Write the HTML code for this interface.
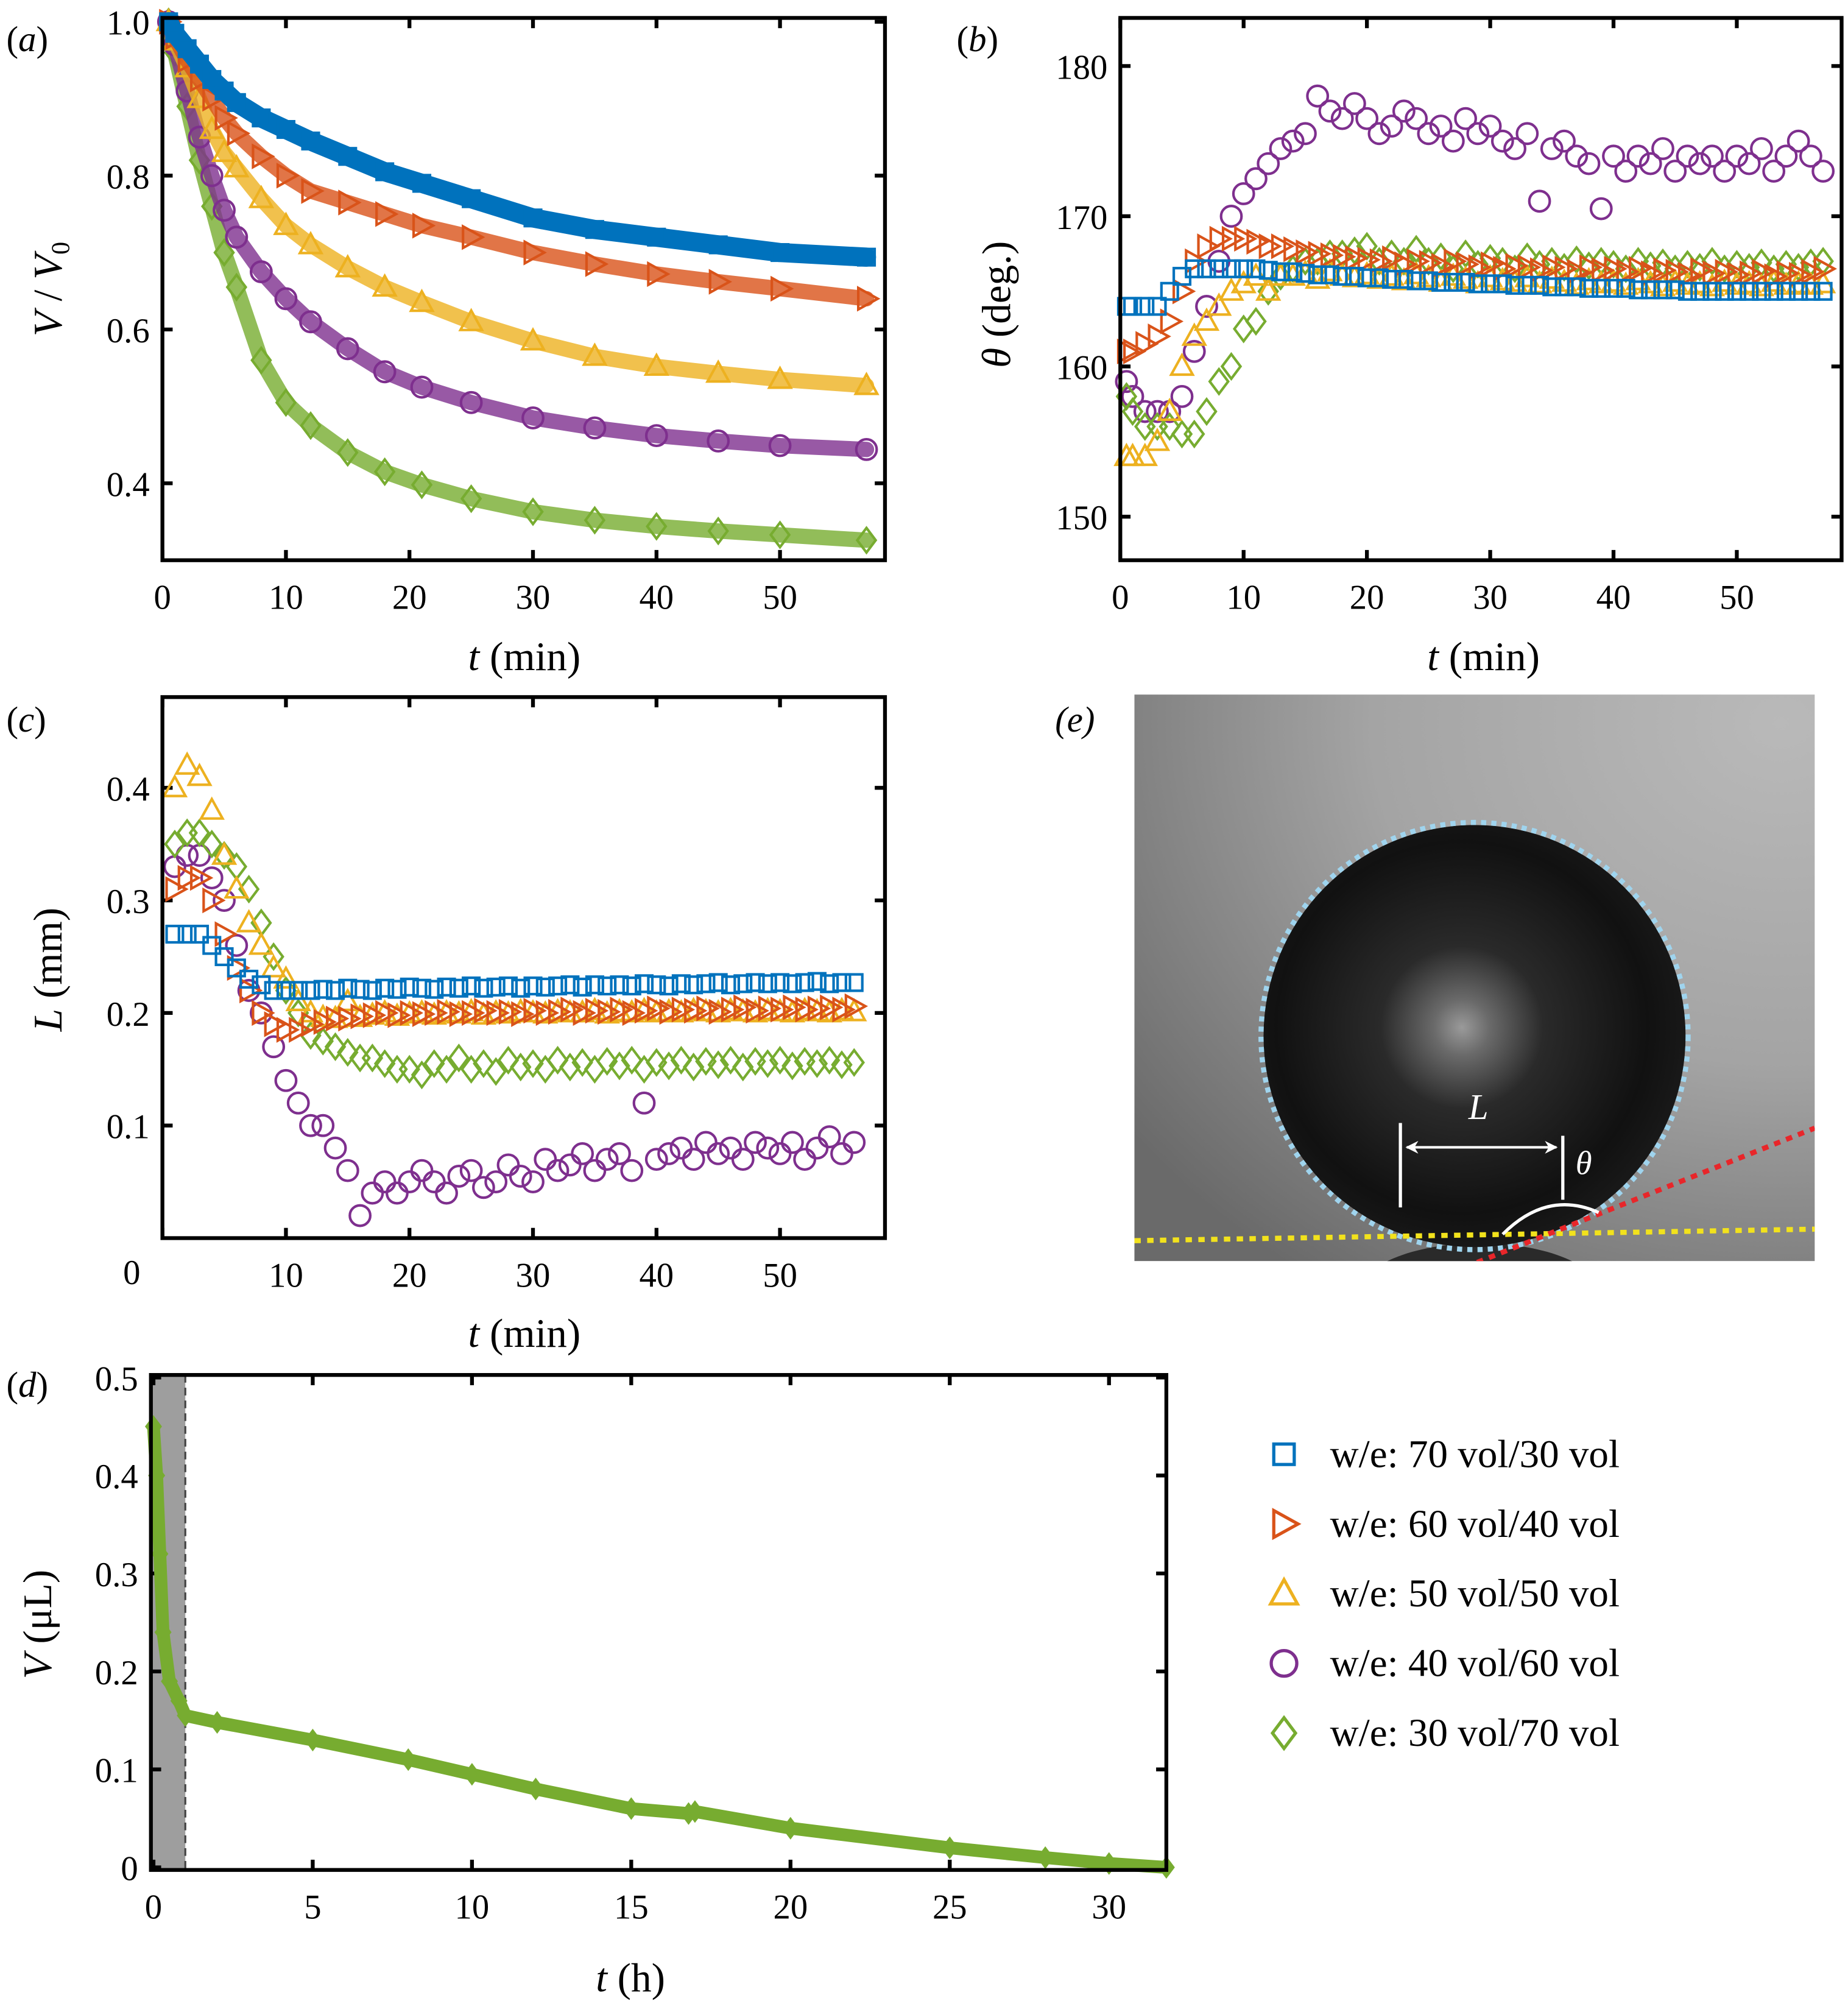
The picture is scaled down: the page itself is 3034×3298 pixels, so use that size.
<!DOCTYPE html>
<html><head><meta charset="utf-8"><style>
html,body{margin:0;padding:0;background:#fff}
svg{display:block}
text{font-family:"Liberation Serif",serif;fill:#000}
</style></head><body>
<svg id="fig" xmlns="http://www.w3.org/2000/svg" width="3034" height="3298" viewBox="0 0 1445 1570.7">
<defs>
<radialGradient id="bgGrad" cx="0.95" cy="0.05" r="1.2">
<stop offset="0" stop-color="#b9b9b9"/><stop offset="0.5" stop-color="#a4a4a4"/><stop offset="1" stop-color="#6a6a6a"/>
</radialGradient>
<radialGradient id="dropGrad" cx="0.47" cy="0.48" r="0.55">
<stop offset="0" stop-color="#9a9a9a"/><stop offset="0.12" stop-color="#6a6a6a"/><stop offset="0.35" stop-color="#2a2a2a"/><stop offset="0.8" stop-color="#111"/><stop offset="1" stop-color="#1a1a1a"/>
</radialGradient>
<clipPath id="photoClip"><rect x="887" y="543" width="532" height="443"/></clipPath>
<marker id="arrH" markerWidth="10" markerHeight="10" refX="9" refY="5" orient="auto-start-reverse" markerUnits="userSpaceOnUse"><path d="M0,0 L10,5 L0,10 L3,5 z" fill="#fff"/></marker>
</defs>
<g id="root"></g>

<g clip-path="url(#photoClip)">
<rect x="887" y="543" width="532" height="443" fill="url(#bgGrad)"/>
<ellipse cx="1157" cy="1012" rx="95" ry="40" fill="#2a2a2a"/>
<circle cx="1153" cy="810" r="165" fill="url(#dropGrad)"/>
<circle cx="1153" cy="810" r="167" fill="none" stroke="#9fd4ee" stroke-width="4" stroke-dasharray="4 4"/>
<line x1="887" y1="970" x2="1419" y2="961" stroke="#f2e21c" stroke-width="4" stroke-dasharray="5 5"/>
<line x1="1155" y1="987" x2="1419" y2="882" stroke="#e8262a" stroke-width="4" stroke-dasharray="5 5"/>
<line x1="1095" y1="878" x2="1095" y2="944" stroke="#fff" stroke-width="2.5"/>
<line x1="1222" y1="888" x2="1222" y2="938" stroke="#fff" stroke-width="2.5"/>
<line x1="1100" y1="897" x2="1217" y2="897" stroke="#fff" stroke-width="2" marker-start="url(#arrH)" marker-end="url(#arrH)"/>
<path d="M1175,965 Q1210,930 1250,948" fill="none" stroke="#fff" stroke-width="2.5"/>
<text x="1156" y="875" font-size="28" font-style="italic" text-anchor="middle" style="fill:#fff">L</text>
<text x="1232" y="918" font-size="26" font-style="italic" style="fill:#fff">θ</text>
</g>
<text x="825" y="572" font-size="28" font-style="italic">(e)</text>

<script>
// ---------- data ----------
const colors = ["#0072BD","#D95319","#EDB120","#7E2F8E","#77AC30"];
const shapes = ["square","tri-right","tri-up","circle","diamond"];
const seriesNames = ["w/e: 70 vol/30 vol","w/e: 60 vol/40 vol","w/e: 50 vol/50 vol","w/e: 40 vol/60 vol","w/e: 30 vol/70 vol"];

const tA = [0.5,1,2,3,4,5,6,8,10,12,15,18,21,25,30,35,40,45,50,57];
const vA70 = [1.0,0.985,0.965,0.945,0.925,0.91,0.895,0.875,0.86,0.845,0.825,0.805,0.79,0.77,0.745,0.73,0.72,0.71,0.70,0.694];
const vA60 = [1.0,0.98,0.95,0.925,0.9,0.875,0.855,0.825,0.80,0.78,0.765,0.75,0.735,0.72,0.70,0.685,0.672,0.662,0.653,0.64];
const vA50 = [1.0,0.975,0.94,0.9,0.86,0.83,0.81,0.77,0.735,0.71,0.68,0.655,0.635,0.61,0.585,0.565,0.552,0.543,0.535,0.527];
const vA40 = [1.0,0.97,0.91,0.85,0.8,0.755,0.72,0.675,0.64,0.61,0.575,0.545,0.525,0.505,0.485,0.472,0.462,0.455,0.449,0.444];
const vA30 = [1.0,0.96,0.89,0.82,0.76,0.70,0.655,0.56,0.505,0.475,0.44,0.415,0.398,0.38,0.363,0.352,0.344,0.338,0.333,0.326];

const tB = [0.5,1,2,3,4,5,6,7,8,9,10,11,12,13,14,15,16,17,18,19,20,21,22,23,24,25,26,27,28,29,30,31,32,33,34,35,36,37,38,39,40,41,42,43,44,45,46,47,48,49,50,51,52,53,54,55,56,57];
const thB70 = [164,164,164,164,165,166,166.5,166.5,166.5,166.5,166.5,166.5,166.4,166.3,166.3,166.2,166.1,166.1,166,166,165.9,165.9,165.8,165.8,165.7,165.7,165.6,165.6,165.6,165.5,165.5,165.5,165.4,165.4,165.4,165.3,165.3,165.3,165.2,165.2,165.2,165.2,165.1,165.1,165.1,165.1,165,165,165,165,165,165,165,165,165,165,165,165];
const thB60 = [161,161,161.5,162,163,165,167,168,168.5,168.5,168.5,168.3,168,168,167.8,167.6,167.5,167.4,167.3,167.2,167.1,167,167.2,166.8,167,166.9,166.7,167,166.8,166.6,166.8,166.5,166.7,166.6,166.4,166.6,166.5,166.3,166.6,166.4,166.5,166.3,166.5,166.2,166.4,166.3,166.1,166.4,166.2,166.3,166.1,166.2,166.3,166,166.2,166.1,166.3,166.5];
const thB50 = [154,154,154,155,157,160,162,163,164,165,165.5,166,165,166,166,166.2,165.8,166.3,166,165.9,166.1,165.8,166,165.7,166.1,165.9,165.6,166,165.8,165.5,165.9,165.7,165.6,165.9,165.5,165.8,165.6,165.4,165.7,165.5,165.6,165.4,165.7,165.5,165.3,165.6,165.4,165.5,165.3,165.6,165.4,165.5,165.3,165.6,165.4,165.5,165.4,165.5];
const thB40 = [159,158,157,157,157,158,161,164,167,170,171.5,172.5,173.5,174.5,175,175.5,178,177,176.5,177.5,176.5,175.5,176,177,176.5,175.5,176,175,176.5,175.5,176,175,174.5,175.5,171,174.5,175,174,173.5,170.5,174,173,174,173.5,174.5,173,174,173.5,174,173,174,173.5,174.5,173,174,175,174,173];
const thB30 = [158,157,156,156,156,155.5,155.5,157,159,160,162.5,163,165,166,166.5,167,167,167.5,167.5,167.7,168,167,167.5,167,167.8,167,167.3,166.5,167.5,166.8,167.2,167,166.5,167.3,166.8,167,166.6,167.1,166.7,167,166.8,166.5,167,166.7,166.9,166.5,166.8,166.6,167,166.5,166.8,166.6,166.9,166.5,166.8,166.6,166.9,167];

const tC = [1,2,3,4,5,6,7,8,9,10,11,12,13,14,15,16,17,18,19,20,21,22,23,24,25,26,27,28,29,30,31,32,33,34,35,36,37,38,39,40,41,42,43,44,45,46,47,48,49,50,51,52,53,54,55,56];
const lC70 = [0.27,0.27,0.27,0.26,0.25,0.24,0.23,0.225,0.22,0.22,0.22,0.22,0.221,0.22,0.222,0.221,0.22,0.222,0.221,0.223,0.222,0.221,0.223,0.222,0.224,0.222,0.223,0.224,0.222,0.224,0.223,0.224,0.225,0.223,0.225,0.224,0.225,0.224,0.226,0.225,0.224,0.226,0.225,0.226,0.227,0.225,0.226,0.227,0.226,0.227,0.226,0.227,0.228,0.226,0.227,0.227];
const lC60 = [0.31,0.32,0.32,0.30,0.27,0.24,0.22,0.2,0.19,0.185,0.185,0.19,0.192,0.195,0.195,0.197,0.198,0.2,0.198,0.2,0.199,0.2,0.201,0.199,0.2,0.202,0.2,0.201,0.199,0.202,0.2,0.201,0.203,0.2,0.202,0.201,0.203,0.2,0.202,0.204,0.201,0.203,0.202,0.204,0.201,0.203,0.205,0.202,0.204,0.203,0.205,0.203,0.204,0.205,0.203,0.206];
const lC50 = [0.4,0.42,0.41,0.38,0.34,0.31,0.28,0.26,0.24,0.23,0.21,0.2,0.196,0.195,0.21,0.196,0.198,0.2,0.197,0.199,0.2,0.198,0.2,0.199,0.201,0.198,0.2,0.199,0.201,0.2,0.199,0.201,0.2,0.2,0.202,0.199,0.201,0.2,0.202,0.2,0.201,0.2,0.202,0.201,0.2,0.202,0.201,0.2,0.202,0.201,0.2,0.202,0.201,0.2,0.202,0.201];
const lC40 = [0.33,0.34,0.34,0.32,0.3,0.26,0.22,0.2,0.17,0.14,0.12,0.1,0.1,0.08,0.06,0.02,0.04,0.05,0.04,0.05,0.06,0.05,0.04,0.055,0.06,0.045,0.05,0.065,0.055,0.05,0.07,0.06,0.065,0.075,0.06,0.07,0.075,0.06,0.12,0.07,0.075,0.08,0.07,0.085,0.075,0.08,0.07,0.085,0.08,0.075,0.085,0.07,0.08,0.09,0.075,0.085];
const lC30 = [0.35,0.36,0.36,0.35,0.34,0.33,0.31,0.28,0.25,0.22,0.2,0.18,0.175,0.17,0.165,0.16,0.16,0.155,0.15,0.15,0.145,0.155,0.15,0.16,0.15,0.155,0.148,0.158,0.152,0.155,0.15,0.158,0.152,0.156,0.15,0.157,0.153,0.158,0.15,0.156,0.153,0.158,0.152,0.157,0.154,0.158,0.152,0.157,0.155,0.158,0.153,0.157,0.155,0.158,0.154,0.156];

const tD = [0,0.1,0.2,0.3,0.5,0.8,1,2,5,8,10,12,15,16.8,17,20,25,28,30,31.8];
const vD = [0.45,0.40,0.32,0.24,0.19,0.17,0.155,0.148,0.13,0.11,0.095,0.08,0.06,0.055,0.057,0.04,0.02,0.01,0.004,0.0];

const ticksMin = [0,10,20,30,40,50];
const ticksA = ["0.4","0.6","0.8","1.0"];
const ticksB = [150,160,170,180];
const ticksC = ["0.1","0.2","0.3","0.4"];
const ticksDx = [0,5,10,15,20,25,30];
const ticksDy = ["0","0.1","0.2","0.3","0.4","0.5"];

// ---------- helpers ----------
const NS = "http://www.w3.org/2000/svg";
const root = document.getElementById("root");
function mk(tag, attrs, parent){
  const e = document.createElementNS(NS, tag);
  for (const k in attrs) e.setAttribute(k, attrs[k]);
  (parent||root).appendChild(e);
  return e;
}
function scale(d0,d1,r0,r1){ return v => r0 + (v-d0)*(r1-r0)/(d1-d0); }

function marker(g, shape, x, y, color, s){
  let e;
  if (shape==="square") e = mk("rect",{x:x-s*0.8,y:y-s*0.8,width:s*1.6,height:s*1.6},g);
  else if (shape==="circle") e = mk("circle",{cx:x,cy:y,r:s},g);
  else if (shape==="tri-up") e = mk("polygon",{points:`${x},${y-s*1.1} ${x-s*1.05},${y+s*0.8} ${x+s*1.05},${y+s*0.8}`},g);
  else if (shape==="tri-right") e = mk("polygon",{points:`${x+s*1.1},${y} ${x-s*0.8},${y-s*1.05} ${x-s*0.8},${y+s*1.05}`},g);
  else e = mk("polygon",{points:`${x},${y-s*1.2} ${x+s*0.9},${y} ${x},${y+s*1.2} ${x-s*0.9},${y}`},g);
  e.setAttribute("fill","none");
  e.setAttribute("stroke",color);
  e.setAttribute("stroke-width","2");
  
  
  return e;
}

function axesBox(name, x0,y0,x1,y1, xs, ys, xt, yt, xtl, ytl){
  const g = mk("g",{});
  
  
  xt.forEach((v,i)=>{
    const X = xs(v);
    mk("line",{x1:X,y1:y1,x2:X,y2:y1-8,stroke:"#000","stroke-width":3},g);
    mk("line",{x1:X,y1:y0,x2:X,y2:y0+8,stroke:"#000","stroke-width":3},g);
    if (xtl[i]!==null){
      const t = mk("text",{x:X,y:y1+38,"font-size":27,"text-anchor":"middle"},g);
      t.textContent = xtl[i];
      
      
    }
  });
  yt.forEach((v,i)=>{
    const Y = ys(v);
    mk("line",{x1:x0,y1:Y,x2:x0+8,y2:Y,stroke:"#000","stroke-width":3},g);
    mk("line",{x1:x1,y1:Y,x2:x1-8,y2:Y,stroke:"#000","stroke-width":3},g);
    const t = mk("text",{x:x0-10,y:Y+10,"font-size":27,"text-anchor":"end"},g);
    t.textContent = ytl[i];
    
    
  });
  return g;
}
function frame(x0,y0,x1,y1){
  const r = mk("rect",{x:x0,y:y0,width:x1-x0,height:y1-y0,fill:"none",stroke:"#000","stroke-width":3});
  
  
}
function label(segs, x, y, size, anchor, rot, name){
  const t = mk("text",{x:x,y:y,"font-size":size,"text-anchor":anchor||"middle"});
  if (rot) t.setAttribute("transform",`rotate(-90 ${x} ${y})`);
  segs.forEach(s=>{
    const sp = mk("tspan",{},t);
    if (s[1]) sp.setAttribute("font-style","italic");
    if (s[2]) sp.setAttribute("font-size",s[2]);
    if (s[3]) sp.setAttribute("dy",s[3]);
    sp.textContent = s[0];
  });
  
  
  return t;
}

// ---------- panel a ----------
(function(){
  const x0=127,x1=692,y0=14,y1=438;
  const xs = scale(0,58.5,x0,x1), ys = scale(0.3,1.005,y1,y0);
  axesBox("panel-a-axes",x0,y0,x1,y1,xs,ys,ticksMin,ticksA.map(Number),ticksMin.map(String),ticksA);
  const all=[vA70,vA60,vA50,vA40,vA30];
  [4,3,2,1,0].forEach(k=>{
    const g = mk("g",{});
    
    
    const pts = tA.map((t,i)=>xs(t)+","+ys(all[k][i])).join(" ");
    mk("polyline",{points:pts,fill:"none",stroke:colors[k],"stroke-width":k===0?15:12,"stroke-opacity":k===0?1:0.8,"stroke-linejoin":"round","stroke-linecap":"round"},g);
    tA.forEach((t,i)=>marker(g,shapes[k],xs(t),ys(all[k][i]),colors[k],8));
  });
  frame(x0,y0,x1,y1);
  label([["("],["a",true],[")"]],5,40,28,"start",false,"panel-label-a");
  label([["V",true],[" / "],["V",true],["0",false,20,6]],48,226,32,"middle",true,"y-axis-title-a");
  label([["t",true],[" (min)"]],410,524,32,"middle",false,"x-axis-title-a");
})();

// ---------- panel b ----------
(function(){
  const x0=876,x1=1440,y0=14,y1=438;
  const xs = scale(0,58.5,x0,x1), ys = scale(147.1,183.2,y1,y0);
  axesBox("panel-b-axes",x0,y0,x1,y1,xs,ys,ticksMin,ticksB,ticksMin.map(String),ticksB.map(String));
  const all=[thB70,thB60,thB50,thB40,thB30];
  [3,4,2,1,0].forEach(k=>{
    const g = mk("g",{});
    
    
    tB.forEach((t,i)=>marker(g,shapes[k],xs(t),ys(all[k][i]),colors[k],8));
  });
  frame(x0,y0,x1,y1);
  label([["("],["b",true],[")"]],748,40,28,"start",false,"panel-label-b");
  label([["θ",true],[" (deg.)"]],790,238,32,"middle",true,"y-axis-title-b");
  label([["t",true],[" (min)"]],1160,524,32,"middle",false,"x-axis-title-b");
})();

// ---------- panel c ----------
(function(){
  const x0=127,x1=692,y0=545,y1=968;
  const xs = scale(0,58.5,x0,x1), ys = scale(0.0,0.4806,y1,y0);
  axesBox("panel-c-axes",x0,y0,x1,y1,xs,ys,ticksMin,ticksC.map(Number),[null,"10","20","30","40","50"],ticksC);
  const all=[lC70,lC60,lC50,lC40,lC30];
  [3,4,2,1,0].forEach(k=>{
    const g = mk("g",{});
    
    
    tC.forEach((t,i)=>marker(g,shapes[k],xs(t),ys(all[k][i]),colors[k],8));
  });
  frame(x0,y0,x1,y1);
  label([["0"]],103,1004,27,"middle",false,"x-tick-label-zero-c");
  label([["("],["c",true],[")"]],5,572,28,"start",false,"panel-label-c");
  label([["L",true],[" (mm)"]],48,758,32,"middle",true,"y-axis-title-c");
  label([["t",true],[" (min)"]],410,1053,32,"middle",false,"x-axis-title-c");
})();

// ---------- panel d ----------
(function(){
  const x0=118,x1=912,y0=1075,y1=1462;
  const xs = scale(0,31.8,120,912), ys = scale(0,0.5,1460,1077);
  const sh = mk("rect",{x:x0,y:y0,width:xs(1)-x0,height:y1-y0,fill:"#9e9e9e"});
  
  
  mk("line",{x1:xs(1),y1:y0,x2:xs(1),y2:y1,stroke:"#444","stroke-width":1.5,"stroke-dasharray":"6 4"});
  axesBox("panel-d-axes",x0,y0,x1,y1,xs,ys,ticksDx,ticksDy.map(Number),ticksDx.map(String),ticksDy);
  const g = mk("g",{});
  
  
  mk("polyline",{points:tD.map((t,i)=>xs(t)+","+ys(vD[i])).join(" "),fill:"none",stroke:colors[4],"stroke-width":10,"stroke-linejoin":"round"},g);
  tD.forEach((t,i)=>{const m=marker(g,"diamond",xs(t),ys(vD[i]),colors[4],6);m.setAttribute("fill",colors[4]);});
  frame(x0,y0,x1,y1);
  label([["("],["d",true],[")"]],5,1092,28,"start",false,"panel-label-d");
  label([["V",true],[" (μL)"]],40,1270,32,"middle",true,"y-axis-title-d");
  label([["t",true],[" (h)"]],493,1557,32,"middle",false,"x-axis-title-d");
})();

// ---------- legend ----------
(function(){
  const g = mk("g",{});
  
  
  seriesNames.forEach((n,k)=>{
    const y = 1137 + k*54.5;
    const e = mk("g",{},g);
    
    
    marker(e,shapes[k],1004,y,colors[k],10).setAttribute("stroke-width","2.5");
    const t = mk("text",{x:1040,y:y+10,"font-size":31},e);
    t.textContent = n;
    
    
  });
})();
</script>
</svg>
</body></html>
